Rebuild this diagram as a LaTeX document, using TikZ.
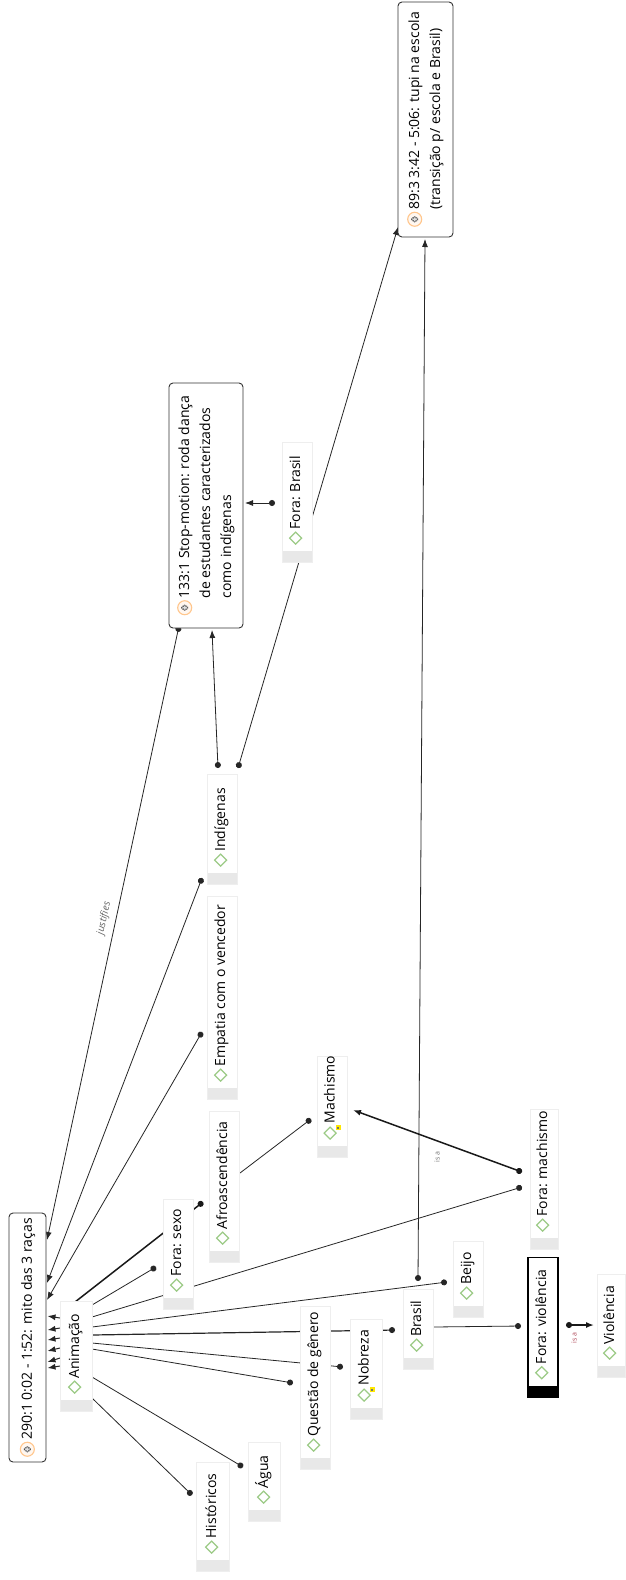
\documentclass[tikz,border=0pt]{standalone}
\usepackage{fontspec}
\setmainfont{Open Sans}
\usetikzlibrary{arrows.meta}
\pgfdeclarelayer{background}
\pgfsetlayers{background,main}
\definecolor{icongreen}{HTML}{9CCB86}
\definecolor{bandgray}{HTML}{E8E8E8}
\definecolor{edgegray}{HTML}{EEEEEE}
\definecolor{relred}{HTML}{B04A5A}
\newcommand{\cdicon}{\tikz[baseline=0pt]\draw[icongreen,line width=1.2pt] (0pt,4.5pt)--(6pt,10.5pt)--(12pt,4.5pt)--(6pt,-1.5pt)--cycle;}
\newcommand{\cdiconmemo}{\tikz[baseline=0pt]{\draw[icongreen,line width=1.2pt] (0pt,4.5pt)--(6pt,10.5pt)--(12pt,4.5pt)--(6pt,-1.5pt)--cycle; \fill[yellow!90!orange] (9pt,-6pt) rectangle (14pt,-1pt); \fill[black!55] (10.5pt,-4.5pt) rectangle (12.5pt,-2.5pt);}}
\newcommand{\qticon}{\tikz[baseline=0pt]{\draw[orange!45,fill=orange!6,line width=1.1pt] (7pt,4.5pt) circle (7pt); \fill[gray!60!black] (4pt,1pt) rectangle (10pt,8pt); \fill[gray!25] (5pt,2.2pt) rectangle (9pt,6.8pt);}}
\newcommand{\codetxt}[3]{\rotatebox{90}{\makebox[#1][l]{\strut\hspace{18pt}#2\hspace{2pt}#3}}}
\tikzset{
  codebox/.style={rectangle, draw=edgegray, fill=white, line width=0.6pt, minimum width=30pt,
    inner xsep=0pt, inner ysep=0pt, anchor=south, text=black,
    font=\fontsize{14}{16}\selectfont,
    path picture={\fill[bandgray] (path picture bounding box.south west) rectangle ([yshift=12pt]path picture bounding box.south east);}},
  violbox/.style={codebox, draw=black, line width=1.4pt,
    path picture={\fill[black] (path picture bounding box.south west) rectangle ([yshift=11pt]path picture bounding box.south east);}},
  quotebox/.style={rectangle, rounded corners=4pt, draw=black!80, line width=0.9pt, fill=white,
    inner sep=0pt, text=black, font=\fontsize{14}{21}\selectfont},
  link/.style={line width=0.8pt, draw=black!85},
  thicklink/.style={line width=1.5pt, draw=black!90},
  todot/.style={-{Circle[length=6pt]}},
  dotarrow/.style={{Circle[length=6pt]}-{Latex[length=8pt,width=6pt]}},
  toarrow/.style={-{Latex[length=8pt,width=6pt]}},
  rellabel/.style={font=\fontsize{7}{8}\selectfont, rotate=90, inner sep=0pt}
}
\begin{document}
\begin{tikzpicture}[x=1pt,y=-1pt]
\useasboundingbox (0,0) rectangle (625,1580);
\begin{pgfonlayer}{background}
\fill[white] (0,0) rectangle (625,1580);
\end{pgfonlayer}

% quotation boxes
\node[quotebox, minimum width=37pt, minimum height=249pt] (q290) at (27.5,1337.5)
  {\rotatebox{90}{\qticon\hspace{2pt}290:1 0:02 - 1:52: mito das 3 raças}};
\node[quotebox, minimum width=74pt, minimum height=245pt] (q133) at (206,505.5)
  {\rotatebox{90}{\qticon\hspace{2pt}\begin{tabular}[t]{@{}l@{}}133:1 Stop-motion: roda dança\\de estudantes caracterizados\\como indígenas\end{tabular}}};
\node[quotebox, minimum width=55pt, minimum height=235pt] (q89) at (425.5,119.5)
  {\rotatebox{90}{\qticon\hspace{2pt}\begin{tabular}[t]{@{}l@{}}89:3 3:42 - 5:06: tupi na escola\\(transição p/ escola e Brasil)\end{tabular}}};

% code nodes
\node[codebox, minimum width=32pt] (anim) at (76,1412) {\codetxt{110pt}{\cdicon}{Animação}};
\node[codebox] (forasexo) at (178,1310) {\codetxt{110pt}{\cdicon}{Fora: sexo}};
\node[codebox] (afro) at (224,1263) {\codetxt{151pt}{\cdicon}{Afroascendência}};
\node[codebox] (empatia) at (222,1100) {\codetxt{203pt}{\cdicon}{Empatia com o vencedor}};
\node[codebox] (indig) at (222,885) {\codetxt{110pt}{\cdicon}{Indígenas}};
\node[codebox] (forabrasil) at (297,563) {\codetxt{120pt}{\cdicon}{Fora: Brasil}};
\node[codebox] (machismo) at (332,1158) {\codetxt{101pt}{\cdiconmemo}{Machismo}};
\node[codebox, minimum width=28pt] (foramach) at (544,1250) {\codetxt{140pt}{\cdicon}{Fora: machismo}};
\node[codebox] (beijo) at (468,1318) {\codetxt{76pt}{\cdicon}{Beijo}};
\node[codebox] (brasil) at (418,1370) {\codetxt{80pt}{\cdicon}{Brasil}};
\node[violbox] (foraviol) at (543,1398) {\codetxt{140pt}{\cdicon}{Fora: violência}};
\node[codebox, minimum width=28pt] (violencia) at (611,1378) {\codetxt{103pt}{\cdicon}{Violência}};
\node[codebox] (questao) at (315,1470) {\codetxt{163pt}{\cdicon}{Questão de gênero}};
\node[codebox, minimum width=32pt] (nobreza) at (366,1420) {\codetxt{100pt}{\cdiconmemo}{Nobreza}};
\node[codebox, minimum width=32pt] (agua) at (264,1522) {\codetxt{79pt}{\cdicon}{Água}};
\node[codebox, minimum width=33pt] (hist) at (213,1572) {\codetxt{109pt}{\cdicon}{Históricos}};

% connector end points
\coordinate (q290-j) at (47,1240);
\coordinate (q290-i) at (47,1283);
\coordinate (q290-e) at (47,1300);
\coordinate (q133-j) at (179,626);
\coordinate (q133-i) at (212,630);
\coordinate (q133-f) at (245,503);
\coordinate (q89-i) at (398,227);
\coordinate (q89-b) at (425,239);
\coordinate (ind-l) at (202,878);
\coordinate (ind-t1) at (218,768);
\coordinate (ind-t2) at (238,768);
\coordinate (emp-l) at (202,1032);
\coordinate (fb-l) at (275,503);
\coordinate (br-t) at (418,1281);
\coordinate (br-l) at (395,1330);
\coordinate (br-r) at (433,1327);
\coordinate (an-t) at (75,1302);
\coordinate (an-1) at (92,1305);
\coordinate (an-2) at (92,1317);
\coordinate (an-3) at (92,1327);
\coordinate (an-4) at (92,1335);
\coordinate (an-5) at (92,1343);
\coordinate (an-6) at (92,1349);
\coordinate (an-7) at (92,1377);
\coordinate (an-8) at (92,1398);
\coordinate (afro-l) at (203,1202);
\coordinate (afro-r) at (240,1173);
\coordinate (fs-l) at (156,1267);
\coordinate (fm-l1) at (522,1172);
\coordinate (fm-l2) at (522,1187);
\coordinate (mach-l) at (311,1119);
\coordinate (mach-r) at (353,1110);
\coordinate (beijo-l) at (447,1282);
\coordinate (nob-l) at (343,1367);
\coordinate (que-l) at (293,1383);
\coordinate (agua-l) at (243,1467);
\coordinate (hist-l) at (192,1495);
\coordinate (fv-l) at (521,1326);
\coordinate (fv-r) at (566,1325);
\coordinate (vio-l) at (594,1325);

\begin{pgfonlayer}{background}
% to quotation 290
\draw[link, dotarrow] (q133-j) -- node[sloped, above=3pt, pos=0.48, font=\itshape\fontsize{10}{12}\selectfont, text=black!60] {justifies} (q290-j);
\draw[link, dotarrow] (ind-l) -- (q290-i);
\draw[link, dotarrow] (emp-l) -- (q290-e);
% Animação -> 290 (clustered arrowheads)
\foreach \ya/\yb in {1318/1316, 1328/1330, 1338/1340, 1348/1351, 1358/1362, 1366/1368}
  \draw[link, line width=1pt, toarrow] (60,\ya) -- (47.5,\yb);
% to 133:1 and 89:3
\draw[link, dotarrow] (ind-t1) -- (q133-i);
\draw[link, dotarrow] (ind-t2) -- (q89-i);
\draw[link, dotarrow] (fb-l) -- (q133-f);
\draw[link, dotarrow] (br-t) -- (q89-b);
% from Animação
\draw[thicklink, todot] (an-t) -- (afro-l);
\draw[link, todot] (an-1) -- (fs-l);
\draw[link, todot] (an-2) -- (fm-l2);
\draw[link, todot] (an-3) -- (beijo-l);
\draw[link, line width=1.2pt, todot] (an-4) -- (br-l);
\draw[link, todot] (an-5) -- (nob-l);
\draw[link, todot] (an-6) -- (que-l);
\draw[link, todot] (an-7) -- (agua-l);
\draw[link, todot] (an-8) -- (hist-l);
% others
\draw[link, todot] (afro-r) -- (mach-l);
\draw[thicklink, dotarrow] (fm-l1) -- (mach-r);
\draw[link, todot] (br-r) -- (fv-l);
\draw[thicklink, dotarrow] (fv-r) -- (vio-l);
\end{pgfonlayer}

% relation labels
\node[rellabel, text=black!55] (lab-mach) at (437,1157) {is a};
\node[rellabel, text=relred] (lab-viol) at (574,1338) {is a};
\end{tikzpicture}
\end{document}
